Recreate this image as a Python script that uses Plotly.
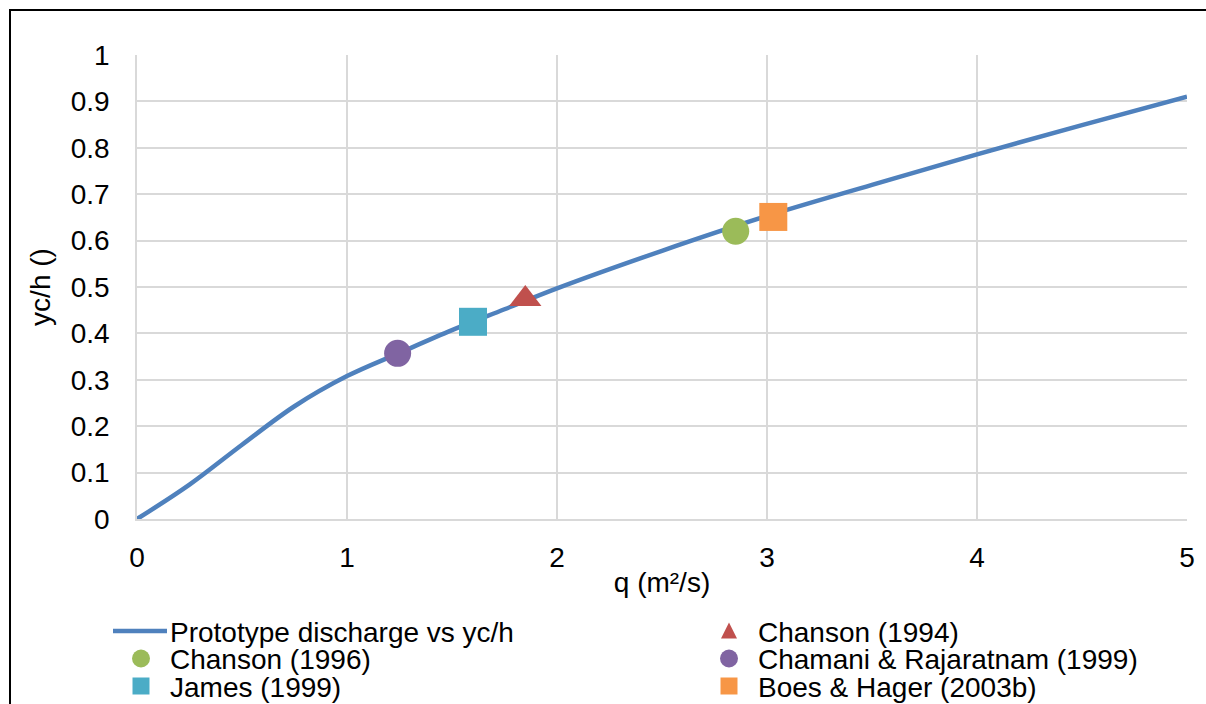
import plotly.graph_objects as go

# Prototype curve
curve_name = "Prototype discharge vs yc/h"
curve_q = [0, 0.25, 0.5, 0.75, 1.0, 1.25, 1.5, 1.75, 2.0, 2.5, 3.0, 3.5, 4.0, 4.5, 5.0]
curve_y = [0, 0.074, 0.160, 0.243, 0.308, 0.358, 0.407, 0.452, 0.497, 0.578, 0.653, 0.72, 0.786, 0.849, 0.91]

# Literature points (legend order)
names = ["Chanson (1994)", "Chanson (1996)", "Chamani & Rajaratnam (1999)", "James (1999)", "Boes & Hager (2003b)"]
pt_q = [1.849, 2.851, 1.241, 1.600, 3.030]
pt_y = [0.474, 0.620, 0.357, 0.425, 0.651]
symbols = ["triangle-up", "circle", "circle", "square", "square"]
colors = ["#c0504d", "#9bbb59", "#8064a2", "#4bacc6", "#f79646"]
curve_color = "#4f81bd"

x_ticks = [0, 1, 2, 3, 4, 5]
y_ticks = [0, 0.1, 0.2, 0.3, 0.4, 0.5, 0.6, 0.7, 0.8, 0.9, 1]
y_tick_labels = ["0", "0.1", "0.2", "0.3", "0.4", "0.5", "0.6", "0.7", "0.8", "0.9", "1"]

W, H = 1206, 704
L, R, T, B = 137, 19, 55, 185
PW, PH = W - L - R, H - T - B
FONT = "Liberation Sans, Arial, sans-serif"
FS = 28


def px(xp):
    return (xp - L) / PW


def py(yp):
    return (H - B - yp) / PH


fig = go.Figure()
fig.add_trace(go.Scatter(x=curve_q, y=curve_y, mode="lines", name=curve_name,
                         line=dict(color=curve_color, width=4.5, shape="spline", smoothing=1.0)))
for n, q, y, s, c in zip(names, pt_q, pt_y, symbols, colors):
    size = {"circle": 27, "square": 28, "triangle-up": 28}[s]
    fig.add_trace(go.Scatter(x=[q], y=[y], mode="markers", name=n,
                             marker=dict(symbol=s, color=c, size=size, line=dict(width=0))))

# Manual two-column legend (Excel style, tight rows)
shapes = [dict(type="rect", xref="paper", yref="paper", x0=px(10), x1=px(W + 20), y0=py(H + 40), y1=py(10),
               line=dict(color="black", width=2), fillcolor="rgba(0,0,0,0)", layer="above")]
annotations = []
entries = [(curve_name, "line", curve_color)] + list(zip(names, symbols, colors))
col_marker_x = [141, 729]
col_text_x = [169, 757]
row_y = [631, 658.5, 686]
for i, (n, s, c) in enumerate(entries):
    col, row = i % 2, i // 2
    mx, my = col_marker_x[col], row_y[row]
    annotations.append(dict(text=n, x=px(col_text_x[col]), y=py(my + 1), xref="paper", yref="paper",
                            xanchor="left", yanchor="middle", showarrow=False, borderpad=0,
                            font=dict(family=FONT, size=FS, color="black")))
    base = dict(xref="paper", yref="paper", xsizemode="pixel", ysizemode="pixel",
                xanchor=px(mx), yanchor=py(my), fillcolor=c, line=dict(width=0))
    if s == "line":
        shapes.append(dict(type="line", xref="paper", yref="paper", x0=px(113), x1=px(167),
                           y0=py(my), y1=py(my), line=dict(color=c, width=4.5)))
    elif s == "circle":
        shapes.append(dict(type="circle", x0=-9, x1=9, y0=-9, y1=9, **base))
    elif s == "square":
        shapes.append(dict(type="rect", x0=-8.5, x1=8.5, y0=-8.5, y1=8.5, **base))
    else:
        shapes.append(dict(type="path", path="M-8,-7.5 L8,-7.5 L0,8.5 Z", **base))

fig.update_layout(
    width=W, height=H,
    margin=dict(l=L, r=R, t=T, b=B, autoexpand=False),
    paper_bgcolor="white", plot_bgcolor="white",
    font=dict(family=FONT, size=FS, color="#000000"),
    showlegend=False,
    xaxis=dict(range=[0, 5], tickvals=x_ticks, showgrid=True, gridcolor="#d9d9d9", gridwidth=1.5,
               showline=True, linecolor="#d9d9d9", linewidth=1.5, zeroline=False, automargin=False,
               ticks="", ticklabelstandoff=13, tickfont=dict(size=FS),
               title=dict(text="q (m²/s)", standoff=0, font=dict(size=FS))),
    yaxis=dict(range=[0, 1], tickvals=y_ticks, ticktext=y_tick_labels, showgrid=True,
               gridcolor="#d9d9d9", gridwidth=1.5, showline=True, linecolor="#d9d9d9", linewidth=1.5,
               zeroline=False, automargin=False, ticks="", ticklabelstandoff=20, tickfont=dict(size=FS),
               title=dict(text="yc/h ()", standoff=12, font=dict(size=FS))),
    shapes=shapes,
    annotations=annotations,
)

fig.write_html("out.html")
